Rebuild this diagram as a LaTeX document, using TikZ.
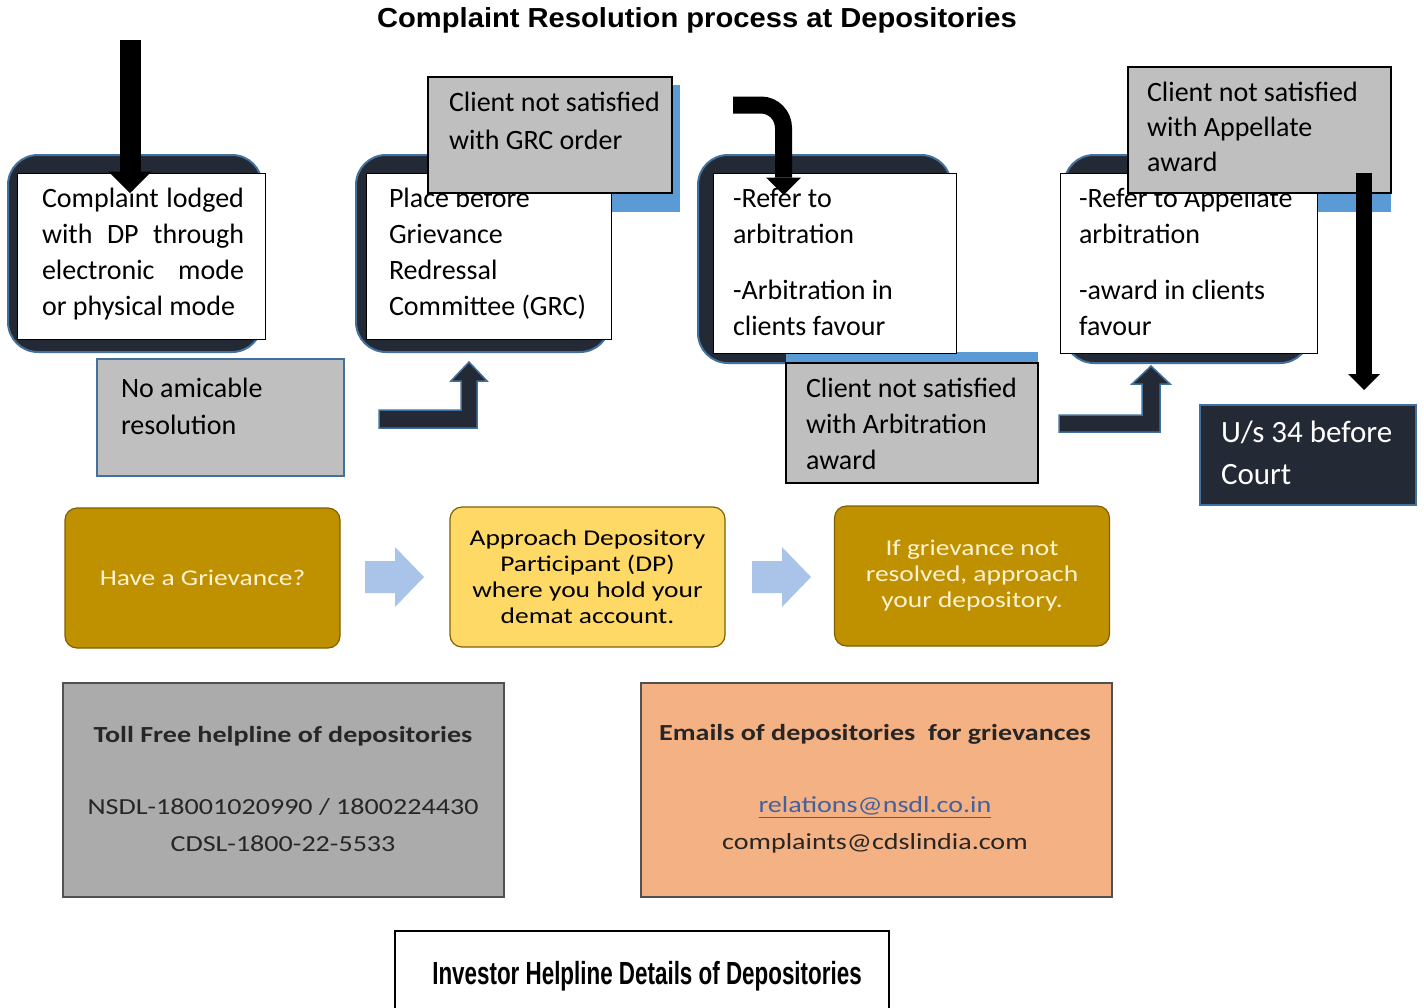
\documentclass[tikz,border=0pt]{standalone}
\usepackage{fontspec}
\setmainfont{Carlito}
\newfontfamily\titlefont[FakeStretch=1.06]{Liberation Sans}
\newfontfamily\widefont[FakeStretch=1.22]{Carlito}
\newfontfamily\narrowfont[FakeStretch=0.70]{Liberation Sans}
\usepackage{tikz}
\usetikzlibrary{positioning, arrows.meta}

\definecolor{navy}{HTML}{232A36}
\definecolor{edgeblue}{HTML}{41719C}
\definecolor{shadeblue}{HTML}{5B9BD5}
\definecolor{notegrey}{HTML}{BFBFBF}
\definecolor{gold}{HTML}{BF9000}
\definecolor{golddark}{HTML}{7F6000}
\definecolor{goldlight}{HTML}{FFD966}
\definecolor{goldtext}{HTML}{FFF3D0}
\definecolor{arrowblue}{HTML}{A9C4E8}
\definecolor{boxgrey}{HTML}{ABABAB}
\definecolor{boxorange}{HTML}{F4B183}
\definecolor{linkblue}{HTML}{44619D}
\definecolor{ink}{HTML}{262626}

\begin{document}
\begin{tikzpicture}
[x=1pt,y=-1pt,inner sep=0pt,outer sep=0pt,
 frame/.style={draw=edgeblue,line width=2pt,fill=navy,rounded corners=30pt},
 sheet/.style={draw=black,line width=0.8pt,fill=white},
 shade/.style={fill=shadeblue},
 note/.style={draw=black,line width=1.5pt,fill=notegrey},
 txt/.style={anchor=north west,align=left,font=\fontsize{28}{36}\selectfont},
 gbox/.style={draw=golddark,line width=1.2pt,rounded corners=12pt,fill=gold,
   text=goldtext,align=center,minimum width=275pt,minimum height=140pt,
   font=\widefont\fontsize{22.5}{26}\selectfont},
 info/.style={draw=ink!80,line width=1.5pt,minimum height=214pt},
 infotxt/.style={align=center,text=ink,font=\widefont\fontsize{23}{37}\selectfont},
 bigarrow/.style={draw=black,-{Triangle[length=#1,width=2*#1,line width=0pt]}},
 lift/.style={fill=navy,draw=edgeblue,line width=1.5pt},
 flow/.style={fill=arrowblue}]
\useasboundingbox (0,0) rectangle (1424,1007);

% title
\node (title) at (697,20) {\titlefont\bfseries\fontsize{27.5}{30}\selectfont Complaint Resolution process at Depositories};

% rounded frames
\node[frame, minimum width=254pt, minimum height=197pt] (f1) at (135,253.5) {};
\node[frame, minimum width=254pt, minimum height=197pt] (f2) at (483,253.5) {};
\node[frame, minimum width=253pt, minimum height=208pt] (f3) at (824.5,259) {};
\node[frame, minimum width=246pt, minimum height=208pt] (f4) at (1187,259) {};

% blue shadows behind the notes
\node[shade, minimum width=244pt, minimum height=127pt] (s2) at (558,148.5) {};
\node[shade, minimum width=252pt, minimum height=118pt] (s3) at (912,411) {};
\node[shade, minimum width=256pt, minimum height=137pt] (s4) at (1263,143.5) {};

% white sheets
\node[sheet, minimum width=248pt, minimum height=166pt] (w1) at (141,256) {};
\node[sheet, minimum width=245pt, minimum height=166pt] (w2) at (488.5,256) {};
\node[sheet, minimum width=243pt, minimum height=180pt] (w3) at (834.5,263) {};
\node[sheet, minimum width=257pt, minimum height=180pt] (w4) at (1188.5,263) {};

\node[txt, text width=202pt, align=justify] (t1) at (42,188)
  {Complaint lodged\linebreak with DP through\linebreak electronic mode\linebreak or physical mode};
\node[txt] (t2) at (389,188) {Place before\\Grievance\\Redressal\\Committee (GRC)};
\node[txt] (t3) at (733,188) {-Refer to\\arbitration\\[20pt]-Arbitration in\\clients favour};
\node[txt] (t4) at (1079,188) {-Refer to Appellate\\arbitration\\[20pt]-award in clients\\favour};

% grey notes
\node[note, minimum width=244pt, minimum height=116pt] (n2) at (550,135) {};
\node[txt, font=\fontsize{28}{38}\selectfont] (tn2) at (449,92) {Client not satisfied\\with GRC order};
\node[note, minimum width=252pt, minimum height=120pt] (n3) at (912,423) {};
\node[txt] (tn3) at (806,378) {Client not satisfied\\with Arbitration\\award};
\node[note, minimum width=263pt, minimum height=126pt] (n4) at (1259.5,130) {};
\node[txt, font=\fontsize{28}{35}\selectfont] (tn4) at (1147,82) {Client not satisfied\\with Appellate\\award};
\node[note, draw=edgeblue, minimum width=247pt, minimum height=117pt] (n1) at (220.5,417.5) {};
\node[txt, font=\fontsize{28}{37}\selectfont] (tn1) at (121,378) {No amicable\\resolution};

% court box
\node[fill=navy, draw=edgeblue, line width=2pt, minimum width=216pt, minimum height=100pt] (court) at (1308,455) {};
\node[txt, text=white, font=\fontsize{31}{42}\selectfont] (tcourt) at (1221,421) {U/s 34 before\\Court};

% black arrows
\coordinate (a1) at (130,40);
\coordinate (a3) at (733,105);
\coordinate (a3t) at ([xshift=-51pt,yshift=-22pt]w3.north);
\coordinate (a4) at (1364,173);
\draw[bigarrow=21.5pt, line width=21pt] (a1) -- ([yshift=-20pt]w1.north -| a1);
\draw[bigarrow=17.5pt, line width=17pt] (a3) -- ([xshift=-22.5pt]a3 -| a3t)
  to[out=0,in=90] ([yshift=-23pt]a3 -| a3t) -- (a3t);
\draw[bigarrow=16pt, line width=16pt] (a4) -- ([yshift=15pt]court.north -| a4);

% L-shaped up arrows
\draw[lift] (379,410) -- (461,410) -- (461,381) -- (451,381) -- (469,362) -- (487,381)
  -- (477,381) -- (477,428) -- (379,428) -- cycle;
\draw[lift] (1059,415) -- (1142,415) -- (1142,384) -- (1132,384) -- (1151,366) -- (1170,384)
  -- (1160,384) -- (1160,432) -- (1059,432) -- cycle;

% grievance steps
\node[gbox] (g1) at (202.5,578) {Have a Grievance?};
\node[gbox, fill=goldlight, text=black] (g2) at (587.5,577) {Approach Depository\\Participant (DP)\\where you hold your\\demat account.};
\node[gbox] (g3) at (972,576) {If grievance not\\resolved, approach\\your depository.};
\foreach \g/\d in {g1/25pt,g2/27pt}
  \fill[flow] ([xshift=\d,yshift=17pt]\g.east |- g1.center) -- ++(30,0) -- ++(0,-14) -- ++(29,30)
    -- ++(-29,30) -- ++(0,-14) -- ++(-30,0) -- cycle;

% helpline boxes
\node[info, fill=boxgrey, minimum width=441pt] (h1) at (283.5,790) {};
\node[infotxt] (th1) at (283,789) {\bfseries Toll Free helpline of depositories\\[35pt]NSDL-18001020990 / 1800224430\\CDSL-1800-22-5533};
\node[info, fill=boxorange, minimum width=471pt] (h2) at (876.5,790) {};
\node[infotxt] (th2) at (875,789) {\bfseries Emails of depositories\ \ for grievances\\[35pt]\textcolor{linkblue}{\underline{relations@nsdl.co.in}}\\complaints@cdslindia.com};

\node[draw=black, line width=1.5pt, fill=white, minimum width=494pt, minimum height=100pt] (foot) at (642,981) {};
\node (tfoot) at (647,976) {\narrowfont\bfseries\fontsize{32}{36}\selectfont Investor Helpline Details of Depositories};
\end{tikzpicture}
\end{document}
